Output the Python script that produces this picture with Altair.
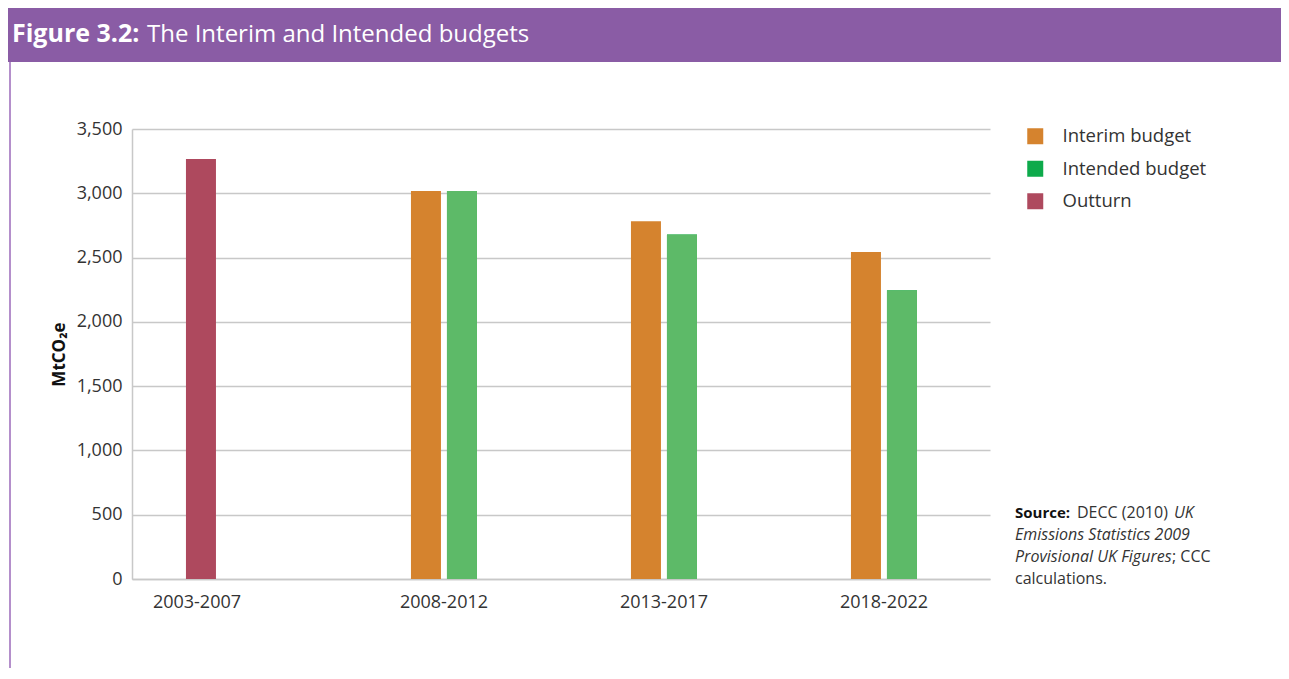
import altair as alt
import pandas as pd

# ---- data ----
periods = ["2003-2007", "2008-2012", "2013-2017", "2018-2022"]
outturn = [3266, None, None, None]
interim = [None, 3018, 2782, 2544]
intended = [None, 3018, 2680, 2245]

series_names = ["Interim budget", "Intended budget", "Outturn"]
legend_colors = ["#D5832E", "#0DAA4B", "#AE495E"]
intended_bar_color = "#5DBA68"

title_bold = "Figure 3.2:"
title_rest = "The Interim and Intended budgets"
y_title = "MtCO\u2082e"

rows = []
for p, o, a, b in zip(periods, outturn, interim, intended):
    if o is not None:
        rows.append({"period": p, "series": "Outturn", "value": o})
    if a is not None:
        rows.append({"period": p, "series": "Interim budget", "value": a})
    if b is not None:
        rows.append({"period": p, "series": "Intended budget", "value": b})
df = pd.DataFrame(rows)

FONT = "Open Sans"
W, H = 858, 450

x_scale = alt.Scale(domain=periods, paddingInner=0.5, paddingOuter=0.2, align=0.42, round=False)
y_scale = alt.Scale(domain=[0, 3500], nice=False)
color_scale = alt.Scale(domain=series_names, range=legend_colors)
off_scale = alt.Scale(domain=["Interim budget", "Intended budget"], paddingInner=0.1667,
                      paddingOuter=0.6111, round=False)

x_enc = alt.X("period:N", scale=x_scale, sort=periods,
              axis=alt.Axis(title=None, labelAngle=0, ticks=False, domain=True,
                            domainColor="#C8C8C8", domainWidth=1.5, labelPadding=14,
                            labelFontSize=18, labelFont=FONT, labelColor="#333333", grid=False,
                            labelOffset={"condition": {"test": "datum.value === '2003-2007'",
                                                       "value": -27}, "value": 0}))
y_enc = alt.Y("value:Q", scale=y_scale,
              axis=alt.Axis(title=y_title, values=list(range(0, 3501, 500)), format=",.0f",
                            ticks=False, domain=True, domainColor="#C8C8C8", domainWidth=1.5,
                            grid=True, gridColor="#C8C8C8", gridWidth=1.5,
                            labelFontSize=18, labelFont=FONT, labelColor="#333333",
                            labelPadding=10, titleFont=FONT, titleFontSize=17,
                            titleFontWeight="bold", titleColor="#111111",
                            titleX=-68, titleY=225, titleAngle=-90, titleAlign="center",
                            titleBaseline="alphabetic"))

legend = alt.Legend(title=None, orient="none", legendX=894, legendY=-2,
                    symbolType="square", symbolSize=256, symbolStrokeWidth=0,
                    labelFont=FONT, labelFontSize=18.5, labelColor="#333333",
                    labelOffset=18, rowPadding=13.5, symbolOpacity=1)

base = alt.Chart(df)

budget_bars = base.transform_filter(alt.datum.series != "Outturn").mark_bar().encode(
    x=x_enc, y=y_enc,
    xOffset=alt.XOffset("series:N", scale=off_scale, sort=["Interim budget", "Intended budget"]),
    color=alt.Color("series:N", scale=color_scale, legend=legend, sort=series_names),
)
intended_overlay = base.transform_filter(alt.datum.series == "Intended budget").mark_bar(
    color=intended_bar_color).encode(
    x=alt.X("period:N", sort=periods), y="value:Q",
    xOffset=alt.XOffset("series:N", sort=["Interim budget", "Intended budget"]),
)
outturn_bars = base.transform_filter(alt.datum.series == "Outturn").mark_bar(
    width=30, xOffset=-23).encode(
    x=alt.X("period:N", sort=periods), y="value:Q",
    color=alt.Color("series:N", sort=series_names),
)

one = pd.DataFrame({"k": [0]})
deco = alt.Chart(one)
header = deco.mark_rect(color="#8A5CA5").encode(
    x=alt.value(-124), x2=alt.value(1149), y=alt.value(-121), y2=alt.value(-67))
side = deco.mark_rect(color="#B48FCB").encode(
    x=alt.value(-123), x2=alt.value(-121), y=alt.value(-67), y2=alt.value(540))

def txt(s, x, y, size, weight="normal", style="normal", color="#333333", font=FONT):
    return deco.mark_text(text=s, align="left", baseline="alphabetic", font=font,
                          fontSize=size, fontWeight=weight, fontStyle=style,
                          color=color).encode(x=alt.value(x), y=alt.value(y))

t1 = txt(title_bold, -120, -87, 25, weight="bold", color="white")
t2 = txt(title_rest, 15, -87, 24, color="white")

src = [
    txt("Source:", 883, 389, 15, weight="bold", color="#111111"),
    txt("DECC (2010)", 945, 389, 16),
    txt("UK", 1042, 389, 16, style="italic"),
    txt("Emissions Statistics 2009", 883, 411, 16, style="italic"),
    txt("Provisional UK Figures", 883, 433, 16, style="italic"),
    txt("; CCC", 1040, 433, 16),
    txt("calculations.", 883, 455, 16),
]

chart = alt.layer(header, side, budget_bars, intended_overlay, outturn_bars, t1, t2, *src).properties(
    width=W, height=H,
    autosize=alt.AutoSizeParams(type="none"),
    padding={"left": 124, "top": 121, "right": 291, "bottom": 89},
    background="white",
).configure_view(stroke=None)

chart.save("out.html", embed_options={"renderer": "svg", "actions": False})
